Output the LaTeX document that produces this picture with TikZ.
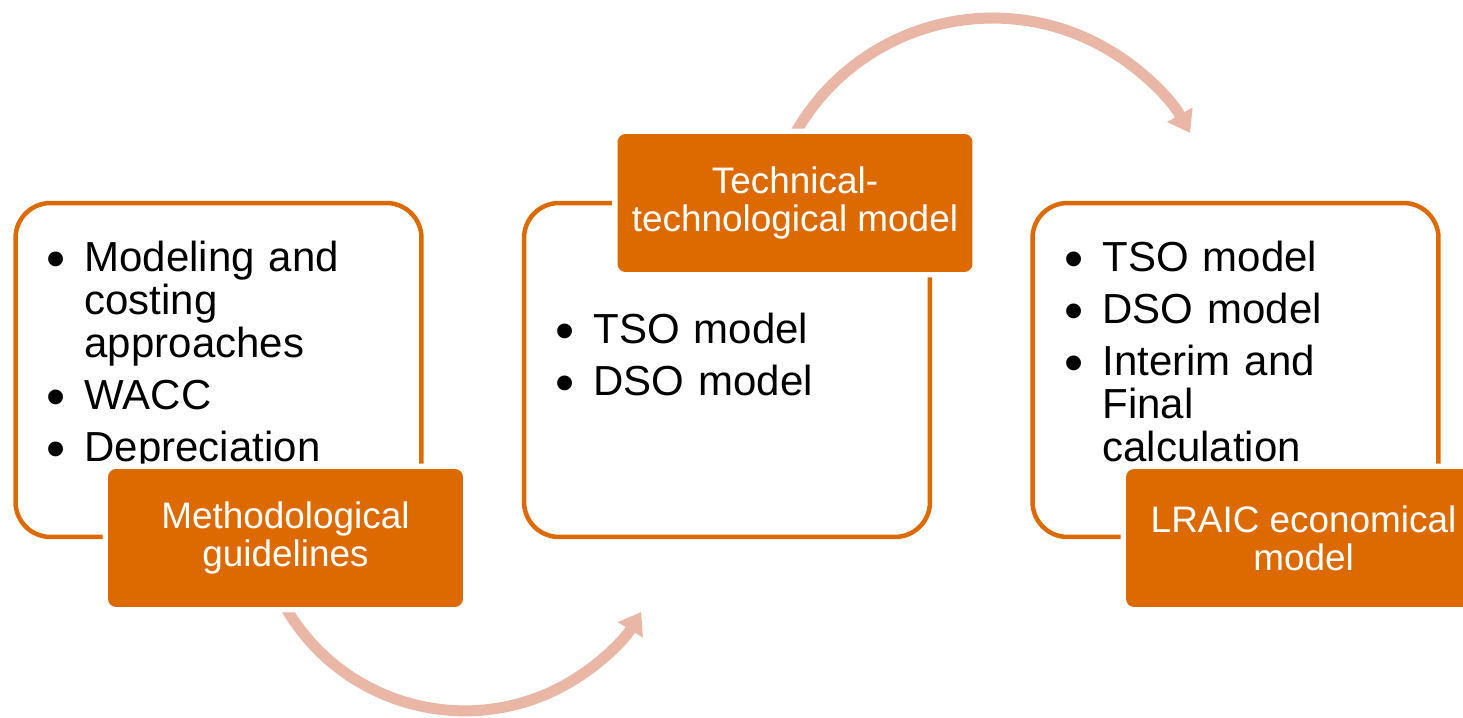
\documentclass[tikz,border=0pt]{standalone}
\usepackage{fontspec}
\setmainfont{Liberation Sans}
\usetikzlibrary{arrows.meta,backgrounds}
\definecolor{boxorange}{RGB}{221,106,0}
\definecolor{arrowpink}{RGB}{234,182,165}
\newcommand{\bul}{\makebox[0pt][r]{\raisebox{-0.12cm}{\scalebox{1.3}{\textbullet}}\hspace{0.38cm}}}

\begin{document}
\begin{tikzpicture}[x = 0.02cm, y = 0.02cm,
	frame/.style = {draw = boxorange, line width = 0.09cm, rounded corners = 0.7cm, minimum width = 8.12cm, minimum height = 6.68cm},
	tagbox/.style = {fill = boxorange, rounded corners = 0.16cm, preaction = {draw = white, line width = 0.22cm}, minimum width = 7.1cm, minimum height = 2.76cm, text = white, align = center, font = \fontsize{21pt}{21.6pt}\selectfont},
	itemlist/.style = {anchor = base west, text width = 6.8cm, align = left, inner sep = 0pt, font = \fontsize{23.9pt}{24.4pt}\selectfont, execute at begin node = \setlength{\parskip}{0.18cm}},
	flow/.style = {draw = arrowpink, line width = 0.22cm, -{Triangle[width = 0.56cm, length = 0.42cm]}}]
	\useasboundingbox (0,0) rectangle (1463,717);
	\node[frame] (box1) at (218.5,347) {};
	\node[frame] (box2) at (727,347) {};
	\node[frame] (box3) at (1235.5,347) {};
	\node[itemlist] (list1) at (84.3,445.3) {\bul Modeling and\\costing\\approaches\par\bul WACC\par\bul Depreciation};
	\node[itemlist] (list2) at (593,373.7) {\bul TSO model\par\bul DSO model};
	\node[itemlist] (list3) at (1102,445) {\bul TSO model\par\bul DSO model\par\bul Interim and\\Final\\calculation};
	\node[tagbox] (tag1) at (285.5,179) {Methodological\\guidelines};
	\node[tagbox] (tag2) at (795,514) {Technical-\\technological model};
	\node[tagbox] (tag3) at (1303.5,179) {LRAIC economical\\model};
	\begin{scope}[on background layer]
		\draw[flow] (tag1.south) arc[start angle = 210, end angle = 328.5, radius = 207];
		\draw[flow] (tag2.north) arc[start angle = 150.6, end angle = 29.6, radius = 227];
	\end{scope}
\end{tikzpicture}
\end{document}
